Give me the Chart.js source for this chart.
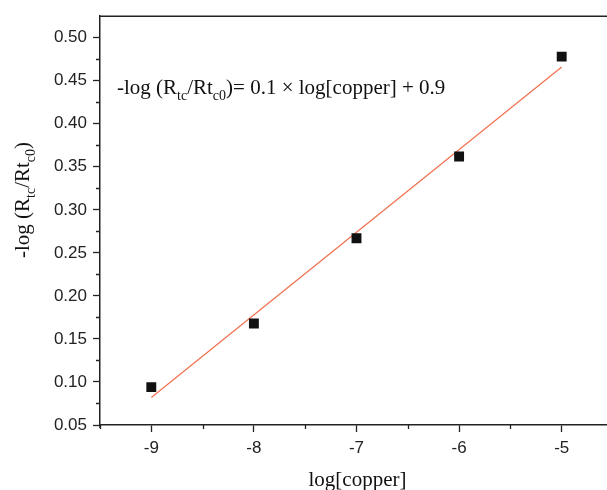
<!DOCTYPE html>
<html>
<head>
<meta charset="utf-8">
<script src="https://cdn.jsdelivr.net/npm/chart.js@4/dist/chart.umd.min.js"></script>
<style>
html,body{margin:0;padding:0;background:#fff;overflow:hidden;width:607px;height:490px;}
canvas{display:block;}
</style>
</head>
<body>
<canvas id="c" width="625" height="490"></canvas>
<script>
// Data
const logCopper = [-9, -8, -7, -6, -5];
const negLogRatio = [0.094, 0.168, 0.267, 0.362, 0.478];
const fitX = [-9, -5];
const fitY = [0.082, 0.466];
const xTickValues = [-9.5, -9, -8.5, -8, -7.5, -7, -6.5, -6, -5.5, -5, -4.5];
const yTickValues = [0.05, 0.075, 0.10, 0.125, 0.15, 0.175, 0.20, 0.225, 0.25, 0.275, 0.30, 0.325, 0.35, 0.375, 0.40, 0.425, 0.45, 0.475, 0.50];
const xTitle = 'log[copper]';
const equationParts = [['-log (R',0],['tc',1],['/Rt',0],['c0',1],[')= 0.1 × log[copper] + 0.9',0]];
const yTitleParts = [['-log (R',0],['tc',1],['/Rt',0],['c0',1],[')',0]];

const INK = '#222';
const isMajorY = v => Math.abs(Math.round(v*1000) % 50) === 0;
const isMajorX = v => Math.abs(v - Math.round(v)) < 1e-6;

function richWidth(ctx, parts, size) {
  const big = size + 'px "Liberation Serif", "Times New Roman", serif';
  const small = Math.round(size*0.66) + 'px "Liberation Serif", "Times New Roman", serif';
  let w = 0;
  parts.forEach(([t,s]) => { ctx.font = s ? small : big; w += ctx.measureText(t).width; });
  return w;
}
function paintRich(ctx, parts, x, y, size) {
  const big = size + 'px "Liberation Serif", "Times New Roman", serif';
  const small = Math.round(size*0.66) + 'px "Liberation Serif", "Times New Roman", serif';
  ctx.textBaseline = 'alphabetic';
  ctx.textAlign = 'left';
  let cx = x;
  parts.forEach(([t,s]) => {
    ctx.font = s ? small : big;
    ctx.fillText(t, cx, s ? y + size*0.28 : y);
    cx += ctx.measureText(t).width;
  });
}

const decor = {
  id: 'decor',
  afterDraw(chart) {
    const ctx = chart.ctx, a = chart.chartArea;
    const xs = chart.scales.x, ys = chart.scales.y;
    ctx.save();
    ctx.strokeStyle = INK;
    ctx.lineWidth = 1.5;
    // top frame line
    ctx.beginPath();
    ctx.moveTo(a.left - 1, a.top);
    ctx.lineTo(a.right + 20, a.top);
    // small extension of y axis below x axis
    ctx.moveTo(a.left, a.bottom);
    ctx.lineTo(a.left, a.bottom + 3);
    ctx.stroke();
    // minor ticks
    ctx.lineWidth = 1.3;
    ctx.beginPath();
    yTickValues.forEach(v => {
      if (!isMajorY(v)) {
        const py = Math.round(ys.getPixelForValue(v)) + 0.5;
        ctx.moveTo(a.left, py); ctx.lineTo(a.left - 4, py);
      }
    });
    xTickValues.forEach(v => {
      if (!isMajorX(v)) {
        const px = Math.round(xs.getPixelForValue(v)) + 0.5;
        ctx.moveTo(px, a.bottom); ctx.lineTo(px, a.bottom + 4);
      }
    });
    ctx.stroke();
    ctx.fillStyle = '#111';
    // equation
    paintRich(ctx, equationParts, a.left + 17, 94, 21);
    // x title
    ctx.font = '21px "Liberation Serif", "Times New Roman", serif';
    ctx.textAlign = 'center';
    ctx.textBaseline = 'middle';
    ctx.fillText(xTitle, (a.left + 613) / 2 + 1, 480);
    // y title rotated
    const w = richWidth(ctx, yTitleParts, 21);
    ctx.translate(29, 200);
    ctx.rotate(-Math.PI/2);
    paintRich(ctx, yTitleParts, -w/2, 0, 21);
    ctx.restore();
  }
};

new Chart(document.getElementById('c'), {
  type: 'scatter',
  data: {
    datasets: [
      {
        label: 'fit',
        data: fitX.map((x,i) => ({x, y: fitY[i]})),
        showLine: true,
        borderColor: '#f0704e',
        borderWidth: 1.2,
        pointRadius: 0,
        fill: false,
        order: 2
      },
      {
        label: 'data',
        data: logCopper.map((x,i) => ({x, y: negLogRatio[i]})),
        pointStyle: 'rect',
        pointRadius: 7,
        backgroundColor: '#111',
        borderColor: '#111',
        borderWidth: 0,
        order: 1
      }
    ]
  },
  options: {
    responsive: false,
    animation: false,
    events: [],
    layout: { padding: { top: 12, right: 12, left: 0, bottom: 0 } },
    plugins: { legend: { display: false }, tooltip: { enabled: false } },
    scales: {
      x: {
        type: 'linear', min: -9.5, max: -4.5,
        afterBuildTicks: s => { s.ticks = xTickValues.map(v => ({value: v})); },
        afterFit: s => { s.height = 65; },
        grid: { display: true, drawOnChartArea: false, drawTicks: true, tickLength: 7,
                tickWidth: 1.3,
                tickColor: c => (c.tick && isMajorX(c.tick.value)) ? INK : 'rgba(0,0,0,0)' },
        border: { display: true, color: INK, width: 1.5 },
        ticks: {
          autoSkip: false, maxRotation: 0, padding: 6, color: INK,
          font: { family: '"Liberation Sans", Arial, sans-serif', size: 17 },
          callback: v => isMajorX(v) ? String(Math.round(v)) : ''
        }
      },
      y: {
        type: 'linear', min: 0.05, max: 0.525,
        afterBuildTicks: s => { s.ticks = yTickValues.map(v => ({value: v})); },
        afterFit: s => { s.width = 100; },
        grid: { display: true, drawOnChartArea: false, drawTicks: true, tickLength: 7,
                tickWidth: 1.3,
                tickColor: c => (c.tick && isMajorY(c.tick.value)) ? INK : 'rgba(0,0,0,0)' },
        border: { display: true, color: INK, width: 1.5 },
        ticks: {
          autoSkip: false, padding: 6, color: INK,
          font: { family: '"Liberation Sans", Arial, sans-serif', size: 17 },
          callback: v => isMajorY(v) ? v.toFixed(2) : ''
        }
      }
    }
  },
  plugins: [decor]
});
</script>
</body>
</html>
